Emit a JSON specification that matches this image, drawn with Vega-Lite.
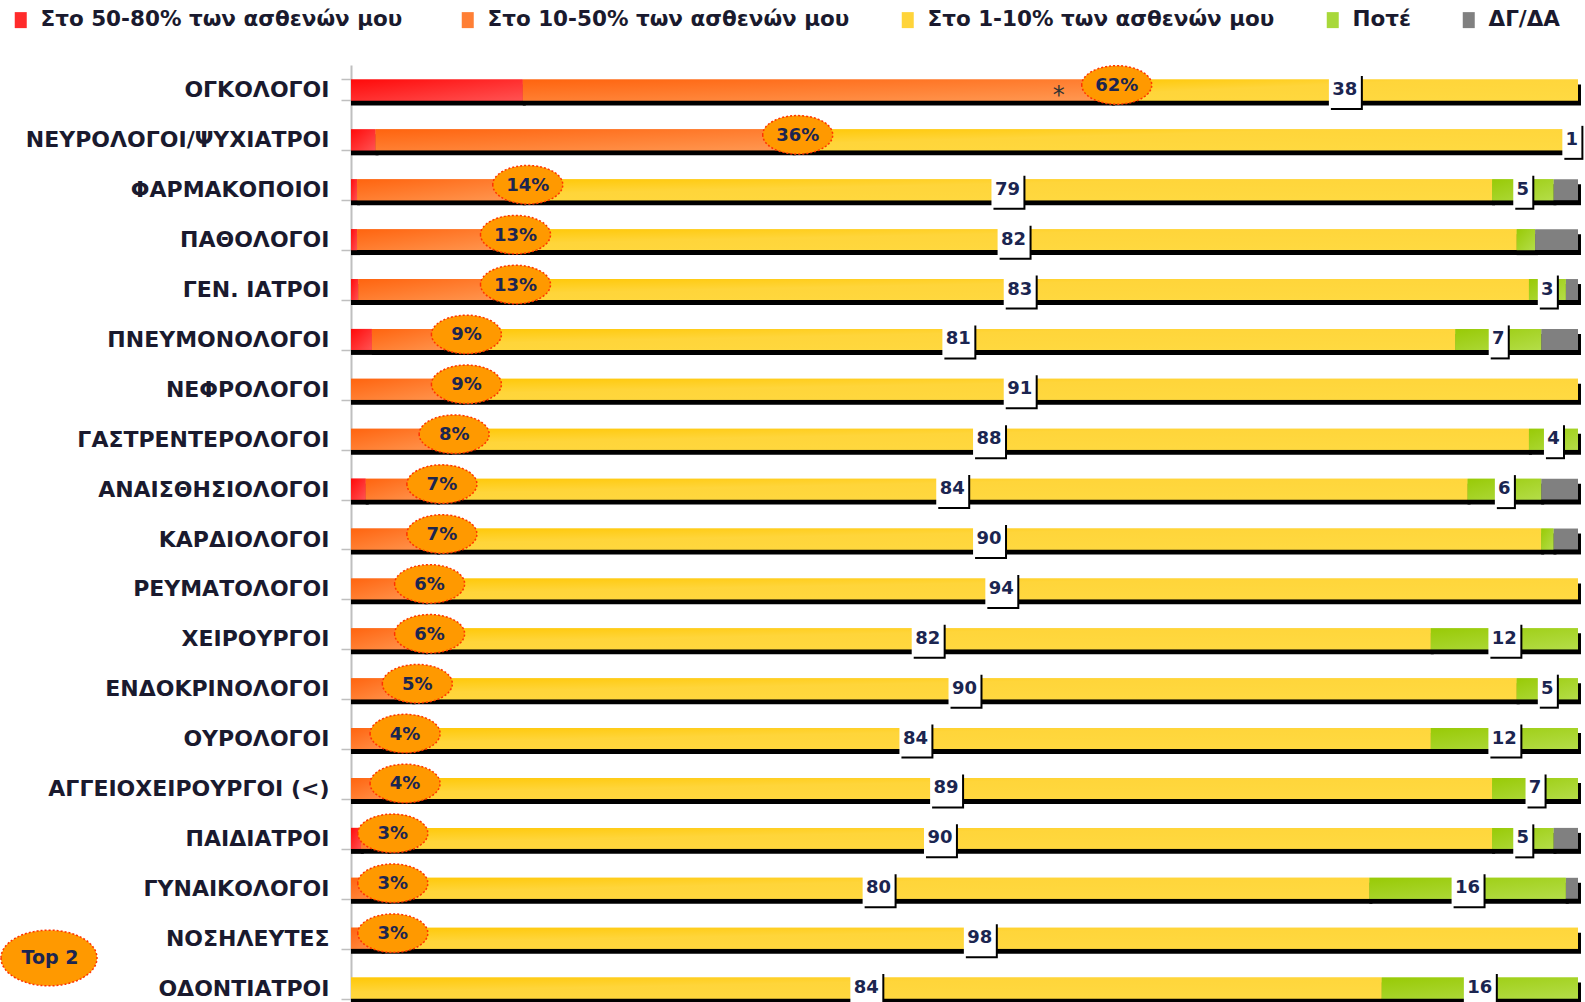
{
  "$schema": "https://vega.github.io/schema/vega-lite/v6.json",
  "width": 1227,
  "height": 940,
  "autosize": {"type": "none"},
  "padding": {"left": 351, "top": 62, "right": 7, "bottom": 0},
  "background": "white",
  "config": {"view": {"stroke": null}, "font": "DejaVu Sans"},
  "datasets": {
    "seg": [
      {"c": "ΟΓΚΟΛΟΓΟΙ", "s": "Στο  50-80% των ασθενών μου", "o": 1, "v": 14},
      {"c": "ΟΓΚΟΛΟΓΟΙ", "s": "Στο 10-50% των ασθενών μου", "o": 2, "v": 48},
      {"c": "ΟΓΚΟΛΟΓΟΙ", "s": "Στο 1-10% των ασθενών μου", "o": 3, "v": 38},
      {"c": "ΝΕΥΡΟΛΟΓΟΙ/ΨΥΧΙΑΤΡΟΙ", "s": "Στο  50-80% των ασθενών μου", "o": 1, "v": 2},
      {"c": "ΝΕΥΡΟΛΟΓΟΙ/ΨΥΧΙΑΤΡΟΙ", "s": "Στο 10-50% των ασθενών μου", "o": 2, "v": 34},
      {"c": "ΝΕΥΡΟΛΟΓΟΙ/ΨΥΧΙΑΤΡΟΙ", "s": "Στο 1-10% των ασθενών μου", "o": 3, "v": 63},
      {"c": "ΝΕΥΡΟΛΟΓΟΙ/ΨΥΧΙΑΤΡΟΙ", "s": "Ποτέ", "o": 4, "v": 1},
      {"c": "ΦΑΡΜΑΚΟΠΟΙΟΙ", "s": "Στο  50-80% των ασθενών μου", "o": 1, "v": 0.5},
      {"c": "ΦΑΡΜΑΚΟΠΟΙΟΙ", "s": "Στο 10-50% των ασθενών μου", "o": 2, "v": 13.5},
      {"c": "ΦΑΡΜΑΚΟΠΟΙΟΙ", "s": "Στο 1-10% των ασθενών μου", "o": 3, "v": 79},
      {"c": "ΦΑΡΜΑΚΟΠΟΙΟΙ", "s": "Ποτέ", "o": 4, "v": 5},
      {"c": "ΦΑΡΜΑΚΟΠΟΙΟΙ", "s": "ΔΓ/ΔΑ", "o": 5, "v": 2},
      {"c": "ΠΑΘΟΛΟΓΟΙ", "s": "Στο  50-80% των ασθενών μου", "o": 1, "v": 0.5},
      {"c": "ΠΑΘΟΛΟΓΟΙ", "s": "Στο 10-50% των ασθενών μου", "o": 2, "v": 12.5},
      {"c": "ΠΑΘΟΛΟΓΟΙ", "s": "Στο 1-10% των ασθενών μου", "o": 3, "v": 82},
      {"c": "ΠΑΘΟΛΟΓΟΙ", "s": "Ποτέ", "o": 4, "v": 1.5},
      {"c": "ΠΑΘΟΛΟΓΟΙ", "s": "ΔΓ/ΔΑ", "o": 5, "v": 3.5},
      {"c": "ΓΕΝ. ΙΑΤΡΟΙ", "s": "Στο  50-80% των ασθενών μου", "o": 1, "v": 0.6},
      {"c": "ΓΕΝ. ΙΑΤΡΟΙ", "s": "Στο 10-50% των ασθενών μου", "o": 2, "v": 12.4},
      {"c": "ΓΕΝ. ΙΑΤΡΟΙ", "s": "Στο 1-10% των ασθενών μου", "o": 3, "v": 83},
      {"c": "ΓΕΝ. ΙΑΤΡΟΙ", "s": "Ποτέ", "o": 4, "v": 3},
      {"c": "ΓΕΝ. ΙΑΤΡΟΙ", "s": "ΔΓ/ΔΑ", "o": 5, "v": 1},
      {"c": "ΠΝΕΥΜΟΝΟΛΟΓΟΙ", "s": "Στο  50-80% των ασθενών μου", "o": 1, "v": 1.7},
      {"c": "ΠΝΕΥΜΟΝΟΛΟΓΟΙ", "s": "Στο 10-50% των ασθενών μου", "o": 2, "v": 7.3},
      {"c": "ΠΝΕΥΜΟΝΟΛΟΓΟΙ", "s": "Στο 1-10% των ασθενών μου", "o": 3, "v": 81},
      {"c": "ΠΝΕΥΜΟΝΟΛΟΓΟΙ", "s": "Ποτέ", "o": 4, "v": 7},
      {"c": "ΠΝΕΥΜΟΝΟΛΟΓΟΙ", "s": "ΔΓ/ΔΑ", "o": 5, "v": 3},
      {"c": "ΝΕΦΡΟΛΟΓΟΙ", "s": "Στο 10-50% των ασθενών μου", "o": 2, "v": 9},
      {"c": "ΝΕΦΡΟΛΟΓΟΙ", "s": "Στο 1-10% των ασθενών μου", "o": 3, "v": 91},
      {"c": "ΓΑΣΤΡΕΝΤΕΡΟΛΟΓΟΙ", "s": "Στο 10-50% των ασθενών μου", "o": 2, "v": 8},
      {"c": "ΓΑΣΤΡΕΝΤΕΡΟΛΟΓΟΙ", "s": "Στο 1-10% των ασθενών μου", "o": 3, "v": 88},
      {"c": "ΓΑΣΤΡΕΝΤΕΡΟΛΟΓΟΙ", "s": "Ποτέ", "o": 4, "v": 4},
      {"c": "ΑΝΑΙΣΘΗΣΙΟΛΟΓΟΙ", "s": "Στο  50-80% των ασθενών μου", "o": 1, "v": 1.2},
      {"c": "ΑΝΑΙΣΘΗΣΙΟΛΟΓΟΙ", "s": "Στο 10-50% των ασθενών μου", "o": 2, "v": 5.8},
      {"c": "ΑΝΑΙΣΘΗΣΙΟΛΟΓΟΙ", "s": "Στο 1-10% των ασθενών μου", "o": 3, "v": 84},
      {"c": "ΑΝΑΙΣΘΗΣΙΟΛΟΓΟΙ", "s": "Ποτέ", "o": 4, "v": 6},
      {"c": "ΑΝΑΙΣΘΗΣΙΟΛΟΓΟΙ", "s": "ΔΓ/ΔΑ", "o": 5, "v": 3},
      {"c": "ΚΑΡΔΙΟΛΟΓΟΙ", "s": "Στο 10-50% των ασθενών μου", "o": 2, "v": 7},
      {"c": "ΚΑΡΔΙΟΛΟΓΟΙ", "s": "Στο 1-10% των ασθενών μου", "o": 3, "v": 90},
      {"c": "ΚΑΡΔΙΟΛΟΓΟΙ", "s": "Ποτέ", "o": 4, "v": 1},
      {"c": "ΚΑΡΔΙΟΛΟΓΟΙ", "s": "ΔΓ/ΔΑ", "o": 5, "v": 2},
      {"c": "ΡΕΥΜΑΤΟΛΟΓΟΙ", "s": "Στο 10-50% των ασθενών μου", "o": 2, "v": 6},
      {"c": "ΡΕΥΜΑΤΟΛΟΓΟΙ", "s": "Στο 1-10% των ασθενών μου", "o": 3, "v": 94},
      {"c": "ΧΕΙΡΟΥΡΓΟΙ", "s": "Στο 10-50% των ασθενών μου", "o": 2, "v": 6},
      {"c": "ΧΕΙΡΟΥΡΓΟΙ", "s": "Στο 1-10% των ασθενών μου", "o": 3, "v": 82},
      {"c": "ΧΕΙΡΟΥΡΓΟΙ", "s": "Ποτέ", "o": 4, "v": 12},
      {"c": "ΕΝΔΟΚΡΙΝΟΛΟΓΟΙ", "s": "Στο 10-50% των ασθενών μου", "o": 2, "v": 5},
      {"c": "ΕΝΔΟΚΡΙΝΟΛΟΓΟΙ", "s": "Στο 1-10% των ασθενών μου", "o": 3, "v": 90},
      {"c": "ΕΝΔΟΚΡΙΝΟΛΟΓΟΙ", "s": "Ποτέ", "o": 4, "v": 5},
      {"c": "ΟΥΡΟΛΟΓΟΙ", "s": "Στο 10-50% των ασθενών μου", "o": 2, "v": 4},
      {"c": "ΟΥΡΟΛΟΓΟΙ", "s": "Στο 1-10% των ασθενών μου", "o": 3, "v": 84},
      {"c": "ΟΥΡΟΛΟΓΟΙ", "s": "Ποτέ", "o": 4, "v": 12},
      {"c": "ΑΓΓΕΙΟΧΕΙΡΟΥΡΓΟΙ (<)", "s": "Στο 10-50% των ασθενών μου", "o": 2, "v": 4},
      {"c": "ΑΓΓΕΙΟΧΕΙΡΟΥΡΓΟΙ (<)", "s": "Στο 1-10% των ασθενών μου", "o": 3, "v": 89},
      {"c": "ΑΓΓΕΙΟΧΕΙΡΟΥΡΓΟΙ (<)", "s": "Ποτέ", "o": 4, "v": 7},
      {"c": "ΠΑΙΔΙΑΤΡΟΙ", "s": "Στο  50-80% των ασθενών μου", "o": 1, "v": 0.8},
      {"c": "ΠΑΙΔΙΑΤΡΟΙ", "s": "Στο 10-50% των ασθενών μου", "o": 2, "v": 2.2},
      {"c": "ΠΑΙΔΙΑΤΡΟΙ", "s": "Στο 1-10% των ασθενών μου", "o": 3, "v": 90},
      {"c": "ΠΑΙΔΙΑΤΡΟΙ", "s": "Ποτέ", "o": 4, "v": 5},
      {"c": "ΠΑΙΔΙΑΤΡΟΙ", "s": "ΔΓ/ΔΑ", "o": 5, "v": 2},
      {"c": "ΓΥΝΑΙΚΟΛΟΓΟΙ", "s": "Στο 10-50% των ασθενών μου", "o": 2, "v": 3},
      {"c": "ΓΥΝΑΙΚΟΛΟΓΟΙ", "s": "Στο 1-10% των ασθενών μου", "o": 3, "v": 80},
      {"c": "ΓΥΝΑΙΚΟΛΟΓΟΙ", "s": "Ποτέ", "o": 4, "v": 16},
      {"c": "ΓΥΝΑΙΚΟΛΟΓΟΙ", "s": "ΔΓ/ΔΑ", "o": 5, "v": 1},
      {"c": "ΝΟΣΗΛΕΥΤΕΣ", "s": "Στο 10-50% των ασθενών μου", "o": 2, "v": 2.5},
      {"c": "ΝΟΣΗΛΕΥΤΕΣ", "s": "Στο 1-10% των ασθενών μου", "o": 3, "v": 97.5},
      {"c": "ΟΔΟΝΤΙΑΤΡΟΙ", "s": "Στο 1-10% των ασθενών μου", "o": 3, "v": 84},
      {"c": "ΟΔΟΝΤΙΑΤΡΟΙ", "s": "Ποτέ", "o": 4, "v": 16}
    ],
    "top2": [
      {"c": "ΟΓΚΟΛΟΓΟΙ", "t": 62, "lab": "62%", "note": "*"},
      {"c": "ΝΕΥΡΟΛΟΓΟΙ/ΨΥΧΙΑΤΡΟΙ", "t": 36, "lab": "36%"},
      {"c": "ΦΑΡΜΑΚΟΠΟΙΟΙ", "t": 14, "lab": "14%"},
      {"c": "ΠΑΘΟΛΟΓΟΙ", "t": 13, "lab": "13%"},
      {"c": "ΓΕΝ. ΙΑΤΡΟΙ", "t": 13, "lab": "13%"},
      {"c": "ΠΝΕΥΜΟΝΟΛΟΓΟΙ", "t": 9, "lab": "9%"},
      {"c": "ΝΕΦΡΟΛΟΓΟΙ", "t": 9, "lab": "9%"},
      {"c": "ΓΑΣΤΡΕΝΤΕΡΟΛΟΓΟΙ", "t": 8, "lab": "8%"},
      {"c": "ΑΝΑΙΣΘΗΣΙΟΛΟΓΟΙ", "t": 7, "lab": "7%"},
      {"c": "ΚΑΡΔΙΟΛΟΓΟΙ", "t": 7, "lab": "7%"},
      {"c": "ΡΕΥΜΑΤΟΛΟΓΟΙ", "t": 6, "lab": "6%"},
      {"c": "ΧΕΙΡΟΥΡΓΟΙ", "t": 6, "lab": "6%"},
      {"c": "ΕΝΔΟΚΡΙΝΟΛΟΓΟΙ", "t": 5, "lab": "5%"},
      {"c": "ΟΥΡΟΛΟΓΟΙ", "t": 4, "lab": "4%"},
      {"c": "ΑΓΓΕΙΟΧΕΙΡΟΥΡΓΟΙ (<)", "t": 4, "lab": "4%"},
      {"c": "ΠΑΙΔΙΑΤΡΟΙ", "t": 3, "lab": "3%"},
      {"c": "ΓΥΝΑΙΚΟΛΟΓΟΙ", "t": 3, "lab": "3%"},
      {"c": "ΝΟΣΗΛΕΥΤΕΣ", "t": 3, "lab": "3%"}
    ]
  },
  "encoding": {
    "y": {
      "field": "c",
      "type": "nominal",
      "title": null,
      "sort": ["ΟΓΚΟΛΟΓΟΙ", "ΝΕΥΡΟΛΟΓΟΙ/ΨΥΧΙΑΤΡΟΙ", "ΦΑΡΜΑΚΟΠΟΙΟΙ", "ΠΑΘΟΛΟΓΟΙ", "ΓΕΝ. ΙΑΤΡΟΙ", "ΠΝΕΥΜΟΝΟΛΟΓΟΙ", "ΝΕΦΡΟΛΟΓΟΙ", "ΓΑΣΤΡΕΝΤΕΡΟΛΟΓΟΙ", "ΑΝΑΙΣΘΗΣΙΟΛΟΓΟΙ", "ΚΑΡΔΙΟΛΟΓΟΙ", "ΡΕΥΜΑΤΟΛΟΓΟΙ", "ΧΕΙΡΟΥΡΓΟΙ", "ΕΝΔΟΚΡΙΝΟΛΟΓΟΙ", "ΟΥΡΟΛΟΓΟΙ", "ΑΓΓΕΙΟΧΕΙΡΟΥΡΓΟΙ (<)", "ΠΑΙΔΙΑΤΡΟΙ", "ΓΥΝΑΙΚΟΛΟΓΟΙ", "ΝΟΣΗΛΕΥΤΕΣ", "ΟΔΟΝΤΙΑΤΡΟΙ"],
      "scale": {"range": [3, 951], "paddingInner": 0.58, "paddingOuter": 0.29},
      "axis": {
        "domainColor": "#BFBFBF",
        "domainWidth": 2,
        "tickColor": "#BFBFBF",
        "tickWidth": 1.5,
        "tickSize": 10,
        "tickBand": "extent",
        "labelFont": "DejaVu Sans",
        "labelFontWeight": "bold",
        "labelFontSize": 22,
        "labelColor": "#1A1A2E",
        "labelPadding": 12,
        "labelLimit": 0
      }
    }
  },
  "layer": [
    {
      "data": {"name": "seg"},
      "transform": [
        {"stack": "v", "groupby": ["c"], "sort": [{"field": "o", "order": "ascending"}], "as": ["x0", "x1"]}
      ],
      "layer": [
        {
          "mark": {"type": "bar", "color": "#000000", "yOffset": 5, "x2Offset": 3},
          "encoding": {
            "x": {"field": "x0", "type": "quantitative", "scale": {"domain": [0, 100]}, "axis": null},
            "x2": {"field": "x1"}
          }
        },
        {
          "mark": {"type": "bar"},
          "encoding": {
            "x": {"field": "x0", "type": "quantitative", "scale": {"domain": [0, 100]}, "axis": null},
            "x2": {"field": "x1"},
            "color": {
              "field": "s",
              "type": "nominal",
              "scale": {
                "domain": ["Στο  50-80% των ασθενών μου", "Στο 10-50% των ασθενών μου", "Στο 1-10% των ασθενών μου", "Ποτέ", "ΔΓ/ΔΑ"],
                "range": ["#FF2B2B", "#FF7F35", "#FFD43A", "#A8D83A", "#808080"]
              },
              "legend": {
                "orient": "none",
                "legendX": -341,
                "legendY": -53,
                "direction": "horizontal",
                "title": null,
                "symbolType": "M-0.75,-1H0.75V1H-0.75Z",
                "symbolSize": 256,
                "symbolStrokeWidth": 0,
                "labelFont": "DejaVu Sans",
                "labelFontWeight": "bold",
                "labelFontSize": 21.5,
                "labelColor": "#1A1A2E",
                "labelOffset": 9,
                "columnPadding": 47,
                "padding": 0,
                "labelLimit": 0
              }
            }
          }
        },
        {
          "encoding": {
            "x": {"field": "x0", "type": "quantitative", "scale": {"domain": [0, 100]}, "axis": null},
            "x2": {"field": "x1"}
          },
          "layer": [
            {
              "transform": [{"filter": "datum.o == 1"}],
              "mark": {"type": "bar", "color": {"gradient": "linear", "x1": 0, "y1": 0, "x2": 1, "y2": 1, "stops": [{"offset": 0, "color": "#FF0A0A"}, {"offset": 1, "color": "#FF5252"}]}}
            },
            {
              "transform": [{"filter": "datum.o == 2"}],
              "mark": {"type": "bar", "color": {"gradient": "linear", "x1": 0, "y1": 0, "x2": 1, "y2": 1, "stops": [{"offset": 0, "color": "#FF640F"}, {"offset": 1, "color": "#FF9852"}]}}
            },
            {
              "transform": [{"filter": "datum.o == 3"}],
              "mark": {"type": "bar", "color": {"gradient": "linear", "x1": 0, "y1": 0, "x2": 1, "y2": 1, "stops": [{"offset": 0, "color": "#FFC808"}, {"offset": 0.35, "color": "#FFD53A"}, {"offset": 1, "color": "#FFDA42"}]}}
            },
            {
              "transform": [{"filter": "datum.o == 4"}],
              "mark": {"type": "bar", "color": {"gradient": "linear", "x1": 0, "y1": 0, "x2": 1, "y2": 1, "stops": [{"offset": 0, "color": "#98CA06"}, {"offset": 1, "color": "#B4DD48"}]}}
            }
          ]
        },
        {
          "transform": [
            {"filter": "(datum.o == 3 && datum.c != 'ΝΕΥΡΟΛΟΓΟΙ/ΨΥΧΙΑΤΡΟΙ') || (datum.o == 4 && datum.c != 'ΠΑΘΟΛΟΓΟΙ' && datum.c != 'ΚΑΡΔΙΟΛΟΓΟΙ')"},
            {"fold": ["x0", "x1"], "as": ["k", "pos"]}
          ],
          "encoding": {
            "x": {"field": "pos", "aggregate": "mean", "type": "quantitative", "scale": {"domain": [0, 100]}, "axis": null},
            "detail": {"field": "o", "type": "nominal"}
          },
          "layer": [
            {
              "transform": [{"filter": "datum.v >= 9.5"}],
              "layer": [
                {"mark": {"type": "point", "shape": "M-0.94,-1H0.94V1H-0.94Z", "size": 1156, "filled": true, "color": "#000000", "opacity": 1, "strokeWidth": 0, "xOffset": 2, "yOffset": 3}},
                {"mark": {"type": "point", "shape": "M-0.94,-1H0.94V1H-0.94Z", "size": 1156, "filled": true, "color": "#FFFFFF", "opacity": 1, "strokeWidth": 0, "yOffset": 1}}
              ]
            },
            {
              "transform": [{"filter": "datum.v < 9.5"}],
              "layer": [
                {"mark": {"type": "point", "shape": "M-0.56,-1H0.56V1H-0.56Z", "size": 1156, "filled": true, "color": "#000000", "opacity": 1, "strokeWidth": 0, "xOffset": 2, "yOffset": 3}},
                {"mark": {"type": "point", "shape": "M-0.56,-1H0.56V1H-0.56Z", "size": 1156, "filled": true, "color": "#FFFFFF", "opacity": 1, "strokeWidth": 0, "yOffset": 1}}
              ]
            },
            {
              "mark": {"type": "text", "font": "DejaVu Sans", "fontWeight": "bold", "fontSize": 18, "color": "#1B2550", "baseline": "middle", "align": "center"},
              "encoding": {"text": {"field": "v", "type": "quantitative", "format": ".0f"}}
            }
          ]
        }
      ]
    },
    {
      "data": {"name": "top2"},
      "encoding": {
        "x": {"field": "t", "type": "quantitative", "scale": {"domain": [0, 100]}, "axis": null}
      },
      "layer": [
        {
          "mark": {"type": "point", "shape": "M-1,0A1,0.55,0,1,0,1,0A1,0.55,0,1,0,-1,0Z", "size": 4900, "filled": true, "opacity": 1, "stroke": "#FF3300", "strokeWidth": 1.5, "strokeDash": [2, 2], "xOffset": 5, "yOffset": -5},
          "encoding": {
            "fill": {
              "datum": "Top 2",
              "type": "nominal",
              "scale": {"domain": ["Top 2"], "range": ["#FF9900"]},
              "legend": {
                "orient": "none",
                "legendX": -351,
                "legendY": 847,
                "title": null,
                "symbolType": "M-1,0A1,0.58,0,1,0,1,0A1,0.58,0,1,0,-1,0Z",
                "symbolSize": 9216,
                "symbolStrokeColor": "#FF3300",
                "symbolStrokeWidth": 1.5,
                "symbolDash": [2, 2],
                "labelFont": "DejaVu Sans",
                "labelFontWeight": "bold",
                "labelFontSize": 19,
                "labelColor": "#1B2550",
                "labelAlign": "center",
                "labelOffset": -48,
                "padding": 0
              }
            }
          }
        },
        {
          "mark": {"type": "text", "font": "DejaVu Sans", "fontWeight": "bold", "fontSize": 18, "color": "#1B2550", "baseline": "middle", "align": "center", "xOffset": 5, "yOffset": -4},
          "encoding": {"text": {"field": "lab", "type": "nominal"}}
        },
        {
          "transform": [{"filter": "datum.note"}],
          "mark": {"type": "text", "font": "DejaVu Sans", "fontSize": 24, "color": "#333333", "baseline": "middle", "align": "center", "xOffset": -53, "yOffset": 6},
          "encoding": {"text": {"field": "note", "type": "nominal"}}
        }
      ]
    }
  ]
}
